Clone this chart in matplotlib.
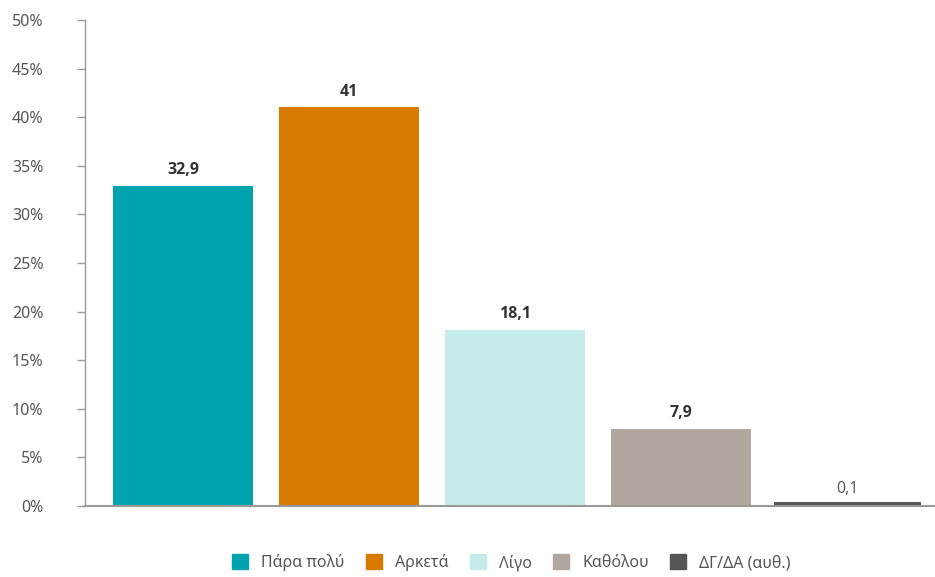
import matplotlib
matplotlib.use("Agg")
import matplotlib.pyplot as plt
from matplotlib.patches import Patch

plt.rcParams['font.family'] = ['Noto Sans', 'DejaVu Sans']

categories = ['Πάρα πολύ', 'Αρκετά', 'Λίγο', 'Καθόλου', 'ΔΓ/ΔΑ (αυθ.)']
values = [32.9, 41, 18.1, 7.9, 0.1]
labels = ['32,9', '41', '18,1', '7,9', '0,1']
colors = ['#00A3AE', '#D97A00', '#C5EBEA', '#B0A89E', '#555555']
yticks = [0, 5, 10, 15, 20, 25, 30, 35, 40, 45, 50]

fig = plt.figure(figsize=(9.35, 5.77), dpi=100)
ax = fig.add_axes([85 / 935, 1 - 506 / 577, 1 - 85 / 935, (506 - 20) / 577])

x = range(len(categories))
ax.bar(x, values, width=0.84, color=colors, edgecolor=colors, linewidth=[0, 0, 0, 0, 5])
for i, (v, lab) in enumerate(zip(values, labels)):
    ax.text(i, v + 0.8, lab, ha='center', va='bottom', fontsize=11.5,
            family=['Open Sans', 'DejaVu Sans'],
            fontweight='bold' if i < 4 else 'normal', color='#333333' if i < 4 else '#555555')

ax.set_xlim(-0.59, 4.53)
ax.set_ylim(0, 50)
ax.set_yticks(yticks)
ax.set_yticklabels([f'{t}%' for t in yticks])
ax.set_xticks([])
ax.tick_params(axis='y', length=6, width=1, color='#999999', labelcolor='#555555',
               labelsize=11.5, pad=24)
for s in ['top', 'right']:
    ax.spines[s].set_visible(False)
ax.spines['left'].set_color('#999999')
ax.spines['bottom'].set_color('#999999')
ax.spines['left'].set_linewidth(1)
ax.spines['bottom'].set_linewidth(1.5)

handles = [Patch(facecolor=c, edgecolor=c) for c in colors]
fig.legend(handles, categories, loc='center', bbox_to_anchor=(0.547, 0.025), ncol=5,
           frameon=False, fontsize=11.5, handlelength=1.0, handleheight=1.0,
           columnspacing=1.35, handletextpad=0.8, labelcolor='#555555')

fig.savefig('out.png', dpi=100)
